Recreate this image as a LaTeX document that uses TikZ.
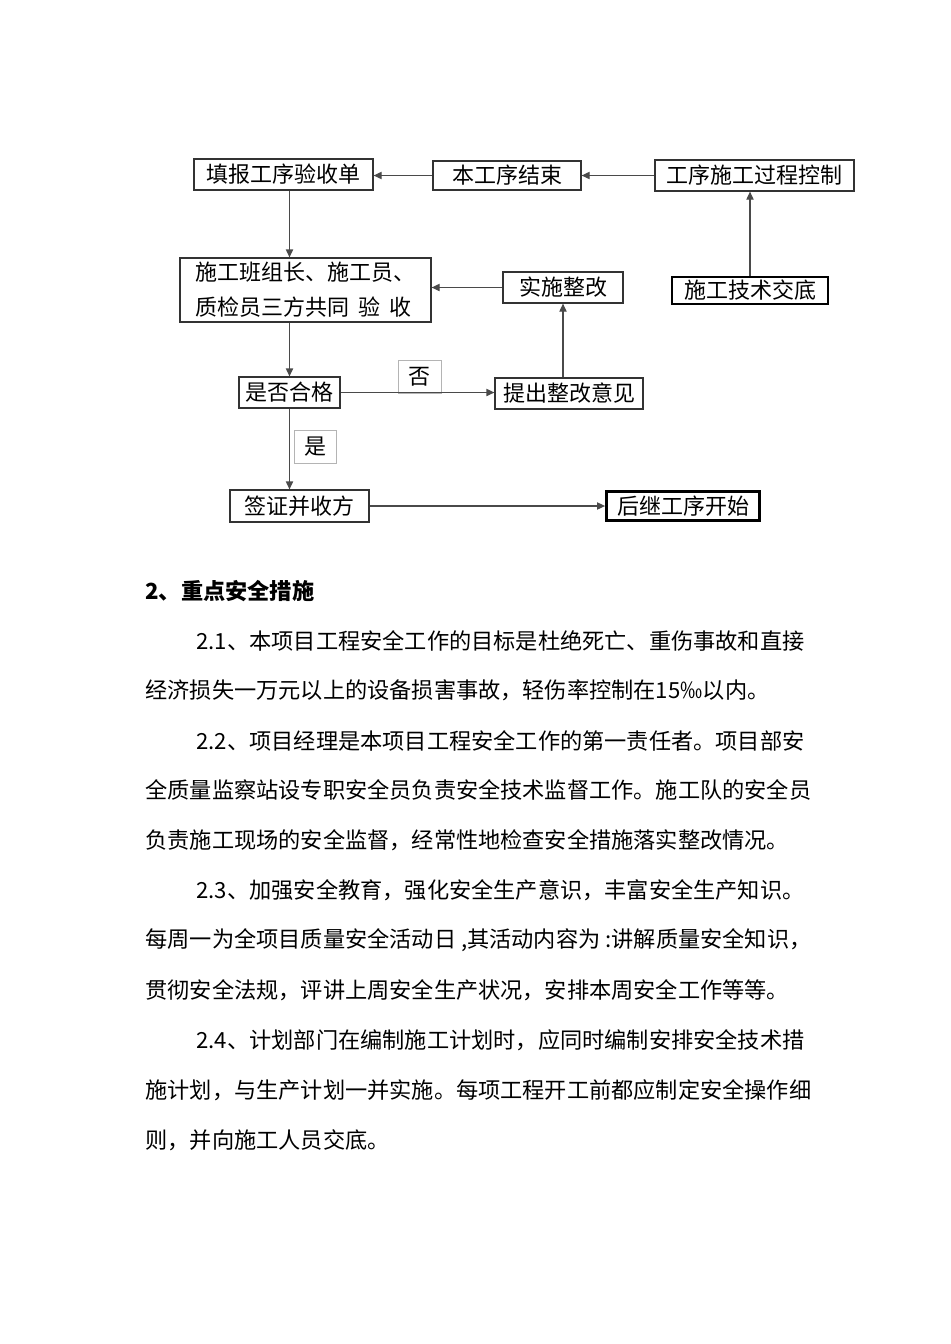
\documentclass[tikz,border=0pt]{standalone}
\usepackage{fontspec}
\setmainfont{Noto Sans CJK SC}
\usetikzlibrary{arrows.meta,positioning}
\definecolor{ln}{HTML}{4A4A4A}
\definecolor{bd}{HTML}{333333}
\definecolor{lb}{HTML}{B4B4B4}
\tikzset{
  box/.style={draw=bd,line width=0.6pt,fill=white,inner sep=0pt,align=center,font=\fontsize{11}{13}\selectfont},
  tbox/.style={box,draw=black,line width=1.4pt},
  lbl/.style={box,draw=lb,line width=0.5pt},
  ar/.style={-{Triangle[length=4pt,width=3.6pt]},line width=0.6pt,draw=ln},
  para/.style={anchor=west,inner sep=0pt,font=\fontsize{11.1}{13}\selectfont},
}

\begin{document}
\begin{tikzpicture}[x=0.5pt,y=-0.5pt]
  \fill[white] (0,0) rectangle (950,1344);
  \useasboundingbox (0,0) rectangle (950,1344);

  % flow chart
  \node[box,minimum width=89.5pt,minimum height=15.5pt] (fill) at (283.5,174.5) {填报工序验收单};
  \node[box,minimum width=74pt,minimum height=14.5pt] (end) at (507,175.5) {本工序结束};
  \node[box,minimum width=99.5pt,minimum height=15.5pt] (ctrl) at (754.5,175.5) {工序施工过程控制};
  \node[tbox,minimum width=78pt,minimum height=13.5pt] (tech) at (750,290.5) {施工技术交底};
  \node[box,minimum width=125.5pt,minimum height=32pt,align=left,font=\fontsize{11}{17.5}\selectfont] (check) at (305.5,290)
    {施工班组长、施工员、\\质检员三方共同\hspace{0.4em}验\hspace{0.4em}收};
  \node[box,minimum width=60pt,minimum height=15.5pt] (fix) at (563,287.5) {实施整改};
  \node[box,minimum width=50.5pt,minimum height=15.5pt] (pass) at (289.5,392.5) {是否合格};
  \node[lbl,minimum width=21.5pt,minimum height=16.5pt] (no) at (419.5,376.5) {否};
  \node[box,minimum width=74pt,minimum height=15.5pt] (opinion) at (569,393.5) {提出整改意见};
  \node[lbl,minimum width=21pt,minimum height=16.5pt] (yes) at (315,446.5) {是};
  \node[box,minimum width=69.5pt,minimum height=16pt] (sign) at (299.5,506) {签证并收方};
  \node[tbox,minimum width=76.5pt,minimum height=14.5pt] (next) at (683,506) {后继工序开始};

  \draw[ar] (end.west) -- (end.west -| fill.east);
  \draw[ar] (ctrl.west) -- (ctrl.west -| end.east);
  \draw[ar] (tech.north) -- (tech.north |- ctrl.south);
  \draw[ar] (fill.south -| pass.north) -- (check.north -| pass.north);
  \draw[ar] (fix.west) -- (fix.west -| check.east);
  \draw[ar] (check.south -| pass.north) -- (pass.north);
  \draw[ar] (pass.east) -- (pass.east -| opinion.west);
  \draw[ar] (fix.south |- opinion.north) -- (fix.south);
  \draw[ar] (pass.south) -- (pass.south |- sign.north);
  \draw[ar] (sign.east) -- (sign.east -| next.west);

  % text below
  \node[para,font=\fontsize{11.1}{13}\selectfont\bfseries] (head) at (145,591) {2、重点安全措施};
  \node[para] (p1a) at (196,641) {2.1、本项目工程安全工作的目标是杜绝死亡、重伤事故和直接};
  \node[para] (p1b) at (145,690) {经济损失一万元以上的设备损害事故，轻伤率控制在15‰以内。};
  \node[para] (p2a) at (196,741) {2.2、项目经理是本项目工程安全工作的第一责任者。项目部安};
  \node[para] (p2b) at (145,790) {全质量监察站设专职安全员负责安全技术监督工作。施工队的安全员};
  \node[para] (p2c) at (145,840) {负责施工现场的安全监督，经常性地检查安全措施落实整改情况。};
  \node[para] (p3a) at (196,890) {2.3、加强安全教育，强化安全生产意识，丰富安全生产知识。};
  \node[para] (p3b) at (145,940) {每周一为全项目质量安全活动日 ,其活动内容为 :讲解质量安全知识，};
  \node[para] (p3c) at (145,990) {贯彻安全法规，评讲上周安全生产状况，安排本周安全工作等等。};
  \node[para] (p4a) at (196,1040) {2.4、计划部门在编制施工计划时，应同时编制安排安全技术措};
  \node[para] (p4b) at (145,1090) {施计划，与生产计划一并实施。每项工程开工前都应制定安全操作细};
  \node[para] (p4c) at (145,1140) {则，并向施工人员交底。};
\end{tikzpicture}
\end{document}
